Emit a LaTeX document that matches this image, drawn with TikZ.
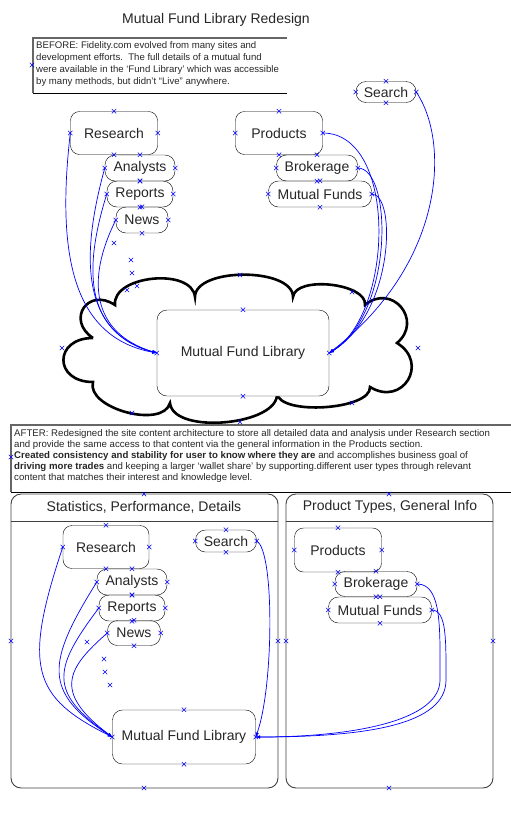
\documentclass[tikz,border=0pt]{standalone}
\usepackage{fontspec}
\setmainfont{Liberation Sans}
\usetikzlibrary{arrows.meta}

\begin{document}
\begin{tikzpicture}[x=1pt, y=-1pt, >={Latex[length=4.5pt,width=3.5pt]}]

	% Styles for boxes, links and markers
	\tikzset{
		topic/.style={draw, rounded corners=9pt, minimum width=87pt, minimum height=43pt, inner sep=0pt, text=black!85, font=\fontsize{14}{16}\selectfont},
		item/.style={draw, rounded corners=10pt, minimum height=26pt, inner sep=0pt, text=black!85, font=\fontsize{14}{16}\selectfont},
		hub/.style={draw, fill=white, rounded corners=10pt, inner sep=0pt, text=black!85, font=\fontsize{14}{16}\selectfont},
		note/.style={anchor=north west, inner sep=0pt, align=left, text=black!85, font=\fontsize{9.6}{12}\selectfont},
		frame/.style={draw=black!60, line width=1.3pt},
		panel/.style={draw=black!75, line width=0.9pt, rounded corners=10pt},
		cloudline/.style={draw=black, fill=white, line width=2.6pt},
		link/.style={->, blue, line width=0.7pt},
		xm/.pic={\draw[blue, line width=0.5pt] (-2.2,-2.2) -- (2.2,2.2) (-2.2,2.2) -- (2.2,-2.2);}
	}

	\useasboundingbox (0,0) rectangle (511,820);

	% Title
	\node[text=black!85, font=\fontsize{14}{16}\selectfont] (title) at (216,20) {Mutual Fund Library Redesign};

	% ----- BEFORE -----
	\draw[frame] (287,38) -- (33,38) -- (33,93);
	\draw[black, line width=0.8pt] (33,93) -- (287,93);
	\node[note] (beforetxt) at (36,41.5) {BEFORE: Fidelity.com evolved from many sites and\\
		development efforts.\ \ The full details of a mutual fund\\
		were available in the ‘Fund Library’ which was accessible\\
		by many methods, but didn’t “Live” anywhere.};

	% Cloud around the library
	\draw[cloudline] (93,338) to[bend left=90, looseness=2.1] (115,305)
		to[bend left=90, looseness=0.95] (195,297)
		to[bend left=90, looseness=0.78] (293,297)
		to[bend left=90, looseness=0.77] (365,305)
		to[bend left=90, looseness=1.8] (397,343)
		to[bend left=90, looseness=1.9] (370,387)
		to[bend left=90, looseness=0.63] (277,393)
		to[bend left=90, looseness=0.77] (170,403)
		to[bend left=90, looseness=0.87] (93,382)
		to[bend left=90, looseness=2.3] (93,338);

	\node[topic] (research) at (114,133) {Research};
	\node[item, minimum width=70pt] (analysts) at (140,168) {Analysts};
	\node[item, minimum width=66pt] (reports) at (140,194) {Reports};
	\node[item, minimum width=52pt] (news) at (142,220) {News};
	\node[topic] (products) at (279,133) {Products};
	\node[item, minimum width=81pt] (brokerage) at (317,168) {Brokerage};
	\node[item, minimum width=103pt] (mutualfunds) at (320,194) {Mutual Funds};
	\node[item, minimum width=60pt, minimum height=21pt] (search) at (386,92) {Search};
	\node[hub, minimum width=172pt, minimum height=86pt] (mfl) at (243,353) {Mutual Fund Library};

	\draw[link] (research.west) .. controls +(-15,130) and +(-80,-15) .. (mfl.west);
	\draw[link] (analysts.west) .. controls +(-25,90) and +(-75,-20) .. (mfl.west);
	\draw[link] (reports.west) .. controls +(-25,80) and +(-70,-20) .. (mfl.west);
	\draw[link] (news.west) .. controls +(-30,60) and +(-65,-20) .. (mfl.west);
	\draw[link] (products.east) .. controls +(75,0) and +(65,-40) .. (mfl.east);
	\draw[link] (brokerage.east) .. controls +(35,0) and +(65,-40) .. (mfl.east);
	\draw[link] (mutualfunds.east) .. controls +(25,0) and +(65,-40) .. (mfl.east);
	\draw[link] (search.east) .. controls +(34,50) and +(116,-90) .. (mfl.east);

	% ----- AFTER -----
	\draw[frame] (511,425) -- (11,425) -- (11,492);
	\draw[black, line width=0.8pt] (11,492) -- (511,492);
	\node[note, font=\fontsize{9.65}{11}\selectfont] (aftertxt) at (14,429) {AFTER: Redesigned the site content architecture to store all detailed data and analysis under Research section\\
		and provide the same access to that content via the general information in the Products section.\\
		\textbf{Created consistency and stability for user to know where they are} and accomplishes business goal of\\
		\textbf{driving more trades} and keeping a larger ‘wallet share’ by supporting.different user types through relevant\\
		content that matches their interest and knowledge level.};

	% Two panels
	\draw[panel] (11,494) rectangle (278,788);
	\draw[black!75, line width=0.9pt] (11,521) -- (278,521);
	\draw[panel] (286,494) rectangle (493,788);
	\draw[black!75, line width=0.9pt] (286,521) -- (493,521);
	\node[text=black!85, font=\fontsize{14}{16}\selectfont] (lefthead) at (144,507) {Statistics, Performance, Details};
	\node[text=black!85, font=\fontsize{14}{16}\selectfont] (righthead) at (390,507) {Product Types, General Info};

	\node[topic, minimum width=86pt] (bresearch) at (106,547) {Research};
	\node[item, minimum width=70pt] (banalysts) at (132,582) {Analysts};
	\node[item, minimum width=66pt] (breports) at (132,608) {Reports};
	\node[item, minimum width=53pt, minimum height=25pt] (bnews) at (134,633) {News};
	\node[item, minimum width=61pt, minimum height=22pt] (bsearch) at (226,541) {Search};
	\node[topic, minimum height=44pt] (bproducts) at (338,550) {Products};
	\node[item, minimum width=82pt, minimum height=25pt] (bbrokerage) at (376,584) {Brokerage};
	\node[item, minimum width=103pt] (bmutualfunds) at (380,610) {Mutual Funds};
	\node[hub, minimum width=143pt, minimum height=54pt] (bmfl) at (184,737) {Mutual Fund Library};

	\draw[link] (bresearch.west) .. controls +(-40,120) and +(-80,-40) .. (bmfl.west);
	\draw[link] (banalysts.west) .. controls +(-50,80) and +(-70,-45) .. (bmfl.west);
	\draw[link] (breports.west) .. controls +(-45,60) and +(-65,-45) .. (bmfl.west);
	\draw[link] (bnews.west) .. controls +(-40,35) and +(-60,-45) .. (bmfl.west);
	\draw[link] (bsearch.east) .. controls +(18,10) and +(18,-50) .. (bmfl.east);
	\draw[link] (bbrokerage.east) .. controls +(25,0) and +(0,-50) .. (440,680) .. controls +(0,40) and +(100,0) .. (bmfl.east);
	\draw[link] (bmutualfunds.east) .. controls +(15,0) and +(0,-40) .. (446,680) .. controls +(0,45) and +(110,0) .. (bmfl.east);

	% Connection markers
	\foreach \n in {research,analysts,reports,news,products,brokerage,mutualfunds,search,mfl,
		bresearch,banalysts,breports,bnews,bproducts,bbrokerage,bmutualfunds,bsearch,bmfl} {
		\foreach \a in {north,south,east,west} {
			\pic at (\n.\a) {xm};
		}
	}
	\foreach \p in {(240,275),(240,422),(62,348),(418,348),(352,292),(352,403),(132,413),(127,290),
		(114,243),(131,260),(132,273),(137,286),(32,65),(11,457),
		(144,494),(389,494),(144,788),(389,788),(11,641),(278,641),(286,641),(493,641),
		(87,642),(104,659),(105,672),(110,685)} {
		\pic at \p {xm};
	}

\end{tikzpicture}
\end{document}
